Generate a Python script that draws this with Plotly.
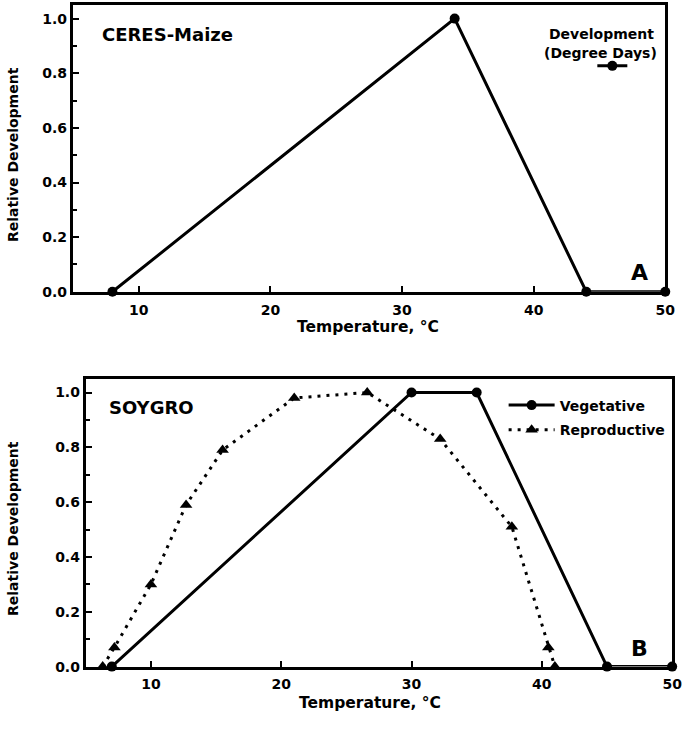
import plotly.graph_objects as go

# ---- data ----
ceres_temp = [8, 34, 44, 50]
ceres_dev = [0.0, 1.0, 0.0, 0.0]

veg_temp = [7, 30, 35, 45, 50]
veg_dev = [0.0, 1.0, 1.0, 0.0, 0.0]

rep_temp = [6.3, 7.2, 10, 12.7, 15.5, 21, 26.6, 32.2, 37.7, 40.5, 41]
rep_dev = [0.0, 0.07, 0.30, 0.59, 0.79, 0.98, 1.0, 0.83, 0.51, 0.07, 0.0]

x_ticks = [10, 20, 30, 40, 50]
y_ticks = [0.0, 0.2, 0.4, 0.6, 0.8, 1.0]

W, H = 693, 730
FONT = "DejaVu Sans"


def px_x(p):
    return p / W


def px_y(p):
    return (H - p) / H


fig = go.Figure()

fig.add_trace(go.Scatter(
    x=ceres_temp, y=ceres_dev, mode="lines+markers", name=" ",
    line=dict(color="black", width=3),
    marker=dict(symbol="circle", size=10, color="black"),
    cliponaxis=False, xaxis="x", yaxis="y", legend="legend",
))
fig.add_trace(go.Scatter(
    x=veg_temp, y=veg_dev, mode="lines+markers", name="Vegetative",
    line=dict(color="black", width=3),
    marker=dict(symbol="circle", size=10, color="black"),
    cliponaxis=False, xaxis="x2", yaxis="y2", legend="legend2",
))
fig.add_trace(go.Scatter(
    x=rep_temp, y=rep_dev, mode="lines+markers", name="Reproductive",
    line=dict(color="black", width=3, dash="3px,6px"),
    marker=dict(symbol="triangle-up", size=11, color="black"),
    cliponaxis=False, xaxis="x2", yaxis="y2", legend="legend3",
))

tickfont = dict(family=FONT, size=14, color="black", weight="bold")

xcommon = dict(range=[5, 50], tickvals=x_ticks, ticks="inside", ticklen=6,
               tickwidth=2, tickcolor="black", showline=True, linecolor="black",
               linewidth=3, mirror=True, showgrid=False, zeroline=False,
               tickfont=tickfont, ticklabelstandoff=3)
ycommon = dict(range=[0, 1.05], tickvals=y_ticks, tickformat=".1f", ticks="inside",
               ticklen=6, tickwidth=2, tickcolor="black", showline=True,
               linecolor="black", linewidth=3, mirror=True, showgrid=False,
               zeroline=False, tickfont=tickfont, ticklabelstandoff=0,
               minor=dict(dtick=0.1, ticks="inside", ticklen=4, tickwidth=2,
                          tickcolor="black", showgrid=False))

legfont = dict(family=FONT, size=14, color="black", weight="bold")
fig.update_layout(
    width=W, height=H,
    margin=dict(l=0, r=0, t=0, b=0),
    paper_bgcolor="white", plot_bgcolor="white",
    xaxis=dict(domain=[px_x(74), px_x(675)], anchor="y", **xcommon),
    yaxis=dict(domain=[px_y(295), px_y(5)], anchor="x", **ycommon),
    xaxis2=dict(domain=[px_x(87), px_x(682)], anchor="y2", **xcommon),
    yaxis2=dict(domain=[px_y(674), px_y(383)], anchor="x2", **ycommon),
    legend=dict(x=px_x(601), y=px_y(67), xanchor="left", yanchor="middle",
                bgcolor="rgba(0,0,0,0)", itemwidth=30, font=legfont),
    legend2=dict(x=px_x(511), y=px_y(410), xanchor="left", yanchor="middle",
                 bgcolor="rgba(0,0,0,0)", itemwidth=46, font=legfont),
    legend3=dict(x=px_x(511), y=px_y(435), xanchor="left", yanchor="middle",
                 bgcolor="rgba(0,0,0,0)", itemwidth=46, font=legfont),
    showlegend=True,
)

ann_font = dict(family=FONT, color="black", weight="bold")
annotations = [
    dict(text="CERES-Maize", x=px_x(101), y=px_y(35), xanchor="left", yanchor="middle",
         font=dict(size=18, **ann_font)),
    dict(text="Development", x=px_x(610), y=px_y(34), xanchor="center", yanchor="middle",
         font=dict(size=14, **ann_font)),
    dict(text="(Degree Days)", x=px_x(609), y=px_y(54), xanchor="center", yanchor="middle",
         font=dict(size=14, **ann_font)),
    dict(text="A", x=px_x(649), y=px_y(276), xanchor="center", yanchor="middle",
         font=dict(size=22, **ann_font)),
    dict(text="SOYGRO", x=px_x(109), y=px_y(412), xanchor="left", yanchor="middle",
         font=dict(size=18, **ann_font)),
    dict(text="B", x=px_x(649), y=px_y(656), xanchor="center", yanchor="middle",
         font=dict(size=22, **ann_font)),
    dict(text="Temperature, °C", x=px_x(373), y=px_y(331), xanchor="center", yanchor="middle",
         font=dict(size=15.5, **ann_font)),
    dict(text="Temperature, °C", x=px_x(375), y=px_y(711), xanchor="center", yanchor="middle",
         font=dict(size=15.5, **ann_font)),
    dict(text="Relative Development", x=px_x(13), y=px_y(156), xanchor="center", yanchor="middle",
         textangle=-90, font=dict(size=14, **ann_font)),
    dict(text="Relative Development", x=px_x(13), y=px_y(534), xanchor="center", yanchor="middle",
         textangle=-90, font=dict(size=14, **ann_font)),
]
for a in annotations:
    a.update(xref="paper", yref="paper", showarrow=False)
fig.update_layout(annotations=annotations)

fig.write_html("out.html")
